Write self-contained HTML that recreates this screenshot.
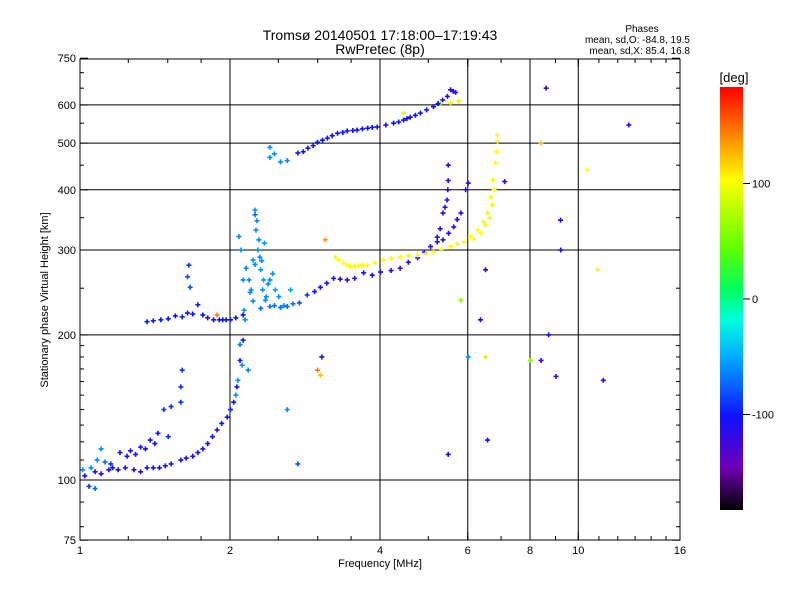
<!DOCTYPE html>
<html><head><meta charset="utf-8"><style>
body{margin:0;background:#fff}
svg{display:block;font-family:"Liberation Sans",sans-serif}
</style></head><body>
<svg id="c" width="800" height="600" viewBox="0 0 800 600">
<defs><linearGradient id="cg" x1="0" y1="1" x2="0" y2="0">
<stop offset="0" stop-color="#000"/><stop offset="0.1" stop-color="#6e00b4"/><stop offset="0.22" stop-color="#1010ff"/>
<stop offset="0.36" stop-color="#00aaff"/><stop offset="0.45" stop-color="#00ffdc"/><stop offset="0.52" stop-color="#00ff60"/>
<stop offset="0.62" stop-color="#60ff00"/><stop offset="0.78" stop-color="#ffff00"/><stop offset="0.88" stop-color="#ff8c00"/><stop offset="1" stop-color="#ff0000"/>
</linearGradient></defs>
<g id="grid"></g><g id="marks"></g><g id="axes"></g>
<text x="380" y="40" text-anchor="middle" font-size="14">Tromsø 20140501 17:18:00–17:19:43</text>
<text x="380" y="54" text-anchor="middle" font-size="14">RwPretec (8p)</text>
<text x="642" y="32" text-anchor="middle" font-size="10">Phases</text>
<text x="690" y="43" text-anchor="end" font-size="10">mean, sd,O: -84.8, 19.5</text>
<text x="690" y="54" text-anchor="end" font-size="10">mean, sd,X:  85.4, 16.8</text>
<text x="380" y="567" text-anchor="middle" font-size="11">Frequency [MHz]</text>
<text transform="translate(48,300) rotate(-90)" text-anchor="middle" font-size="11">Stationary phase Virtual Height [km]</text>
<rect x="720" y="87" width="23" height="423" fill="url(#cg)"/>
<text x="734" y="82" text-anchor="middle" font-size="13">[deg]</text>
<g id="cbar"></g>
</svg>
<script>
const NS="http://www.w3.org/2000/svg";
const X0=80,X1=680,Y0=540,Y1=59;
const xTicks=[1,2,4,6,8,10,16];
const yTicks=[75,100,200,300,400,500,600,750];
const xGrid=[2,4,6,8,10];
const yGrid=[100,200,300,400,500,600];
const cbarTicks=[100,0,-100];
const freqs=[1.02,1.07,1.16,1.23,1.32,1.40,1.48,1.59,1.72,1.80,1.88,1.97,2.03,2.06,2.09,2.12,
2.24,2.25,2.27,2.30,2.32,2.35,2.40,2.46,2.2,2.14,2.09,2.11,2.07,2.05,2.17,2.13,2.22,2.64,
1.01,1.05,1.10,1.12,1.20,1.26,1.32,1.38,1.43,1.47,1.52,1.59,1.59,1.60,1.04,1.07,
1.36,1.45,1.55,1.64,1.72,1.66,1.64,1.65,1.76,1.85,1.93,2.0,2.12,
2.30,2.40,2.52,2.67,2.85,3.03,3.22,3.43,3.70,4.0,4.38,4.75,5.04,5.34,5.61,5.80,5.93,6.0,
5.2,5.34,5.44,5.47,5.47,
3.25,3.37,3.48,3.61,3.76,4.05,4.38,4.75,5.11,5.53,5.88,6.06,6.27,6.44,6.56,6.66,6.72,6.80,6.87,6.87,
2.40,2.40,2.52,2.73,2.86,2.99,3.13,3.28,3.43,3.59,3.77,3.94,4.25,4.45,4.59,4.81,5.11,5.33,5.53,5.66,
4.45,5.53,5.74,5.28,
7.1,8.4,8.7,9.0,9.19,9.2,10.4,10.9,11.2,12.6,8.6,8.4,6.5,6.35,5.47,6.56,3.03,2.99,3.05,2.6,2.73,1.88,2.24,3.1,8.0,6.0,6.5,5.8,
1.10,1.14,1.19,1.28,1.36,1.44,1.52,1.63,1.68,1.76,1.84,1.92,2.0,
1.08,1.15,1.24,1.29,1.35,1.41,1.50,
1.40,1.50,1.60,1.68,1.80,1.90,1.96,2.05,
2.26,2.28,2.31,2.33,2.36,2.38,2.43,2.50,2.56,2.22,2.18,2.15,2.10,2.08,2.12,2.19,2.24,2.29,2.34,
2.45,2.60,2.75,2.95,3.12,3.32,3.55,3.85,4.2,4.55,4.9,5.2,5.48,5.7,
5.27,5.39,5.46,
3.30,3.43,3.55,3.68,3.9,4.2,4.55,4.93,5.3,5.7,6.15,6.36,6.5,6.62,6.70,6.76,6.84,
2.45,2.60,2.80,2.93,3.06,3.20,3.36,3.52,3.68,3.85,4.1,4.35,4.52,4.70,4.95,5.22,5.45,5.60];
const heights=[102,104,106,106,104,106,107,110,114,119,127,135,145,156,177,195,
363,330,300,273,248,236,260,248,248,215,191,173,161,150,169,225,286,248,
105,106,116,109,114,115,117,121,125,140,142,145,156,169,97,96,
213,215,219,222,231,251,264,279,220,215,215,215,220,
227,229,228,232,242,251,262,260,269,270,275,289,305,315,335,358,400,413,
319,358,381,418,450,
290,282,277,278,279,286,290,293,297,305,312,320,330,343,358,386,419,455,505,520,
490,467,457,477,488,502,512,524,530,532,537,540,550,558,566,577,595,614,645,637,
577,606,610,606,
416,177,200,164,346,300,440,273,161,545,650,500,273,215,113,121,165,169,180,140,108,220,355,315,177,180,180,236,
103,105,105,105,106,106,108,111,112,116,123,131,140,
110,108,112,113,116,119,123,
214,216,218,221,217,215,215,217,
345,315,285,260,240,255,268,240,230,235,260,275,300,320,260,245,280,290,310,
230,229,233,246,256,261,262,266,272,283,297,312,325,347,
332,368,400,
286,279,278,279,282,288,292,295,301,309,316,325,338,350,372,400,480,
475,460,480,494,507,518,526,531,535,539,545,553,562,571,586,604,625,640];
const phases=[-105,-105,-105,-105,-105,-105,-105,-105,-105,-105,-105,-100,-100,-100,-95,-95,
-60,-60,-60,-55,-60,-60,-60,-55,-60,-60,-65,-60,-60,-60,-65,-60,-60,-55,
-60,-60,-60,-70,-110,-110,-100,-100,-100,-90,-90,-90,-90,-90,-90,-70,
-100,-100,-100,-100,-100,-80,-80,-90,-100,-100,-100,-100,-100,
-70,-70,-70,-70,-90,-110,-110,-110,-110,-110,-110,-110,-110,-110,-110,-110,-110,-110,
-110,-110,-110,-110,-110,
95,100,100,100,100,100,100,100,100,100,100,100,100,95,95,100,100,100,100,100,
-60,-60,-60,-100,-100,-100,-100,-100,-100,-100,-100,-100,-100,-100,-100,-100,-100,-110,-110,-110,
90,90,90,80,
-110,-110,-100,-120,-100,-100,100,100,-110,-110,-120,120,-110,-110,-100,-100,120,140,-100,-60,-80,140,-70,130,60,-60,80,60,
-105,-105,-105,-105,-105,-105,-105,-105,-105,-100,-100,-100,-95,
-60,-90,-110,-110,-100,-100,-95,
-100,-100,-100,-100,-100,-100,-100,-100,
-60,-60,-60,-55,-60,-60,-60,-55,-60,-60,-60,-65,-60,-60,-60,-60,-60,-60,-55,
-70,-70,-80,-100,-110,-110,-110,-110,-110,-110,-110,-110,-110,-110,
-110,-110,-110,
100,100,100,100,100,100,100,100,100,100,100,100,100,95,100,100,100,
-60,-60,-100,-100,-100,-100,-100,-100,-100,-100,-100,-100,-100,-100,-100,-100,-110,-110];
function xs(f){return X0+(X1-X0)*Math.log2(f)/4;}
function ys(h){return 480-482*Math.log10(h/100);}
function col(p){const t=Math.max(0,Math.min(1,(p+180)/360));
 const st=[[0,0,0,0],[.1,110,0,180],[.22,16,16,255],[.36,0,170,255],[.45,0,255,220],[.52,0,255,96],[.62,96,255,0],[.78,255,255,0],[.88,255,140,0],[1,255,0,0]];
 for(let i=1;i<st.length;i++){if(t<=st[i][0]){const a=st[i-1],b=st[i],u=(t-a[0])/(b[0]-a[0]);
 return `rgb(${[1,2,3].map(k=>Math.round(a[k]+(b[k]-a[k])*u)).join(',')})`;}}return "red";}
function el(t,a,p){const e=document.createElementNS(NS,t);for(const k in a)e.setAttribute(k,a[k]);p.appendChild(e);return e;}
const grid=document.getElementById('grid'),axes=document.getElementById('axes'),marks=document.getElementById('marks'),cb=document.getElementById('cbar');
xGrid.forEach(v=>{const l=el('line',{x1:xs(v),x2:xs(v),y1:Y0,y2:Y1,stroke:'#000','stroke-width':1},grid);

});
yGrid.forEach(v=>{const l=el('line',{x1:X0,x2:X1,y1:ys(v),y2:ys(v),stroke:'#000','stroke-width':1},grid);

});
const fr=el('rect',{x:X0,y:Y1,width:X1-X0,height:Y0-Y1,fill:'none',stroke:'#000','stroke-width':1},axes);


xTicks.forEach(v=>{const t=el('text',{x:xs(v),y:554,'text-anchor':'middle','font-size':11},axes);t.textContent=v;


el('line',{x1:xs(v),x2:xs(v),y1:Y0,y2:Y0-8,stroke:'#000'},axes);el('line',{x1:xs(v),x2:xs(v),y1:Y1,y2:Y1+8,stroke:'#000'},axes);});
for(let v=1;v<16;v+=(v<2?0.25:v<4?0.5:1)){el('line',{x1:xs(v),x2:xs(v),y1:Y0,y2:Y0-4,stroke:'#000'},axes);el('line',{x1:xs(v),x2:xs(v),y1:Y1,y2:Y1+4,stroke:'#000'},axes);}
yTicks.forEach(v=>{const t=el('text',{x:76,y:ys(v)+4,'text-anchor':'end','font-size':11},axes);t.textContent=v;


el('line',{x1:X0,x2:X0+8,y1:ys(v),y2:ys(v),stroke:'#000'},axes);el('line',{x1:X1,x2:X1-8,y1:ys(v),y2:ys(v),stroke:'#000'},axes);});
[80,90,110,120,130,140,150,160,170,180,190,250,350,450,550,650,700].forEach(v=>{el('line',{x1:X0,x2:X0+4,y1:ys(v),y2:ys(v),stroke:'#000'},axes);el('line',{x1:X1,x2:X1-4,y1:ys(v),y2:ys(v),stroke:'#000'},axes);});
cbarTicks.forEach(v=>{const y=299-v*1.155;el('line',{x1:743,x2:750,y1:y,y2:y,stroke:'#000'},cb);
const t=el('text',{x:752,y:y+4,'font-size':11},cb);t.textContent=v;

});
freqs.forEach((f,i)=>{const x=xs(f),y=ys(heights[i]);
const p=el('path',{d:`M${x-2},${y}h5M${x+0.5},${y-2.5}v5`,stroke:col(phases[i]),'stroke-width':1.6,fill:'none'},marks);

});
</script>
</body></html>
